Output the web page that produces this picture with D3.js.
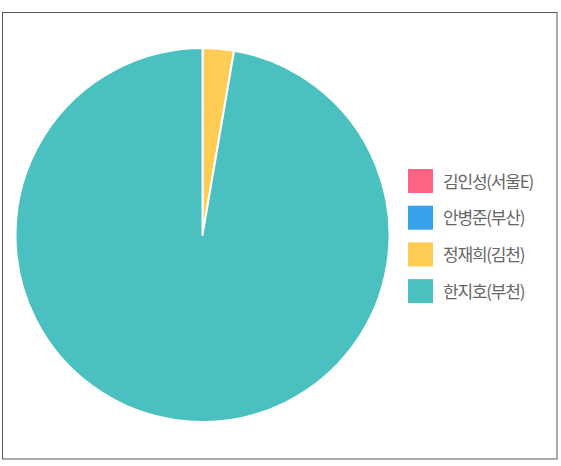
<html>
   <head>
      <meta charset="UTF-8">
      <title>Pie</title>
      <script src="https://d3js.org/d3.v7.min.js"></script>
      <style>
         body{ margin:0; background:#fff; }
         svg{ display:block; }
      </style>
   </head>
   <body>
      <svg width="561" height="466"></svg>
      <script type="text/javascript">
         // data
         var players = ["김인성(서울E)", "안병준(부산)", "정재희(김천)", "한지호(부천)"];
         var values = [0, 0, 1, 36];
         var colors = ["rgb(255,99,132)", "rgb(54,162,235)", "rgb(255,205,86)", "rgb(75,192,192)"];

         var width = 561, height = 466;
         var cx = 202.5, cy = 235, radius = 187;

         var svg = d3.select("svg")
            .attr("width", width)
            .attr("height", height);

         // frame
         svg.append("rect")
            .attr("x", 2.5)
            .attr("y", 12.5)
            .attr("width", 554.5)
            .attr("height", 446.5)
            .attr("fill", "none")
            .attr("stroke", "#555")
            .attr("stroke-width", 1);

         var color = d3.scaleOrdinal().domain(players).range(colors);

         var pie = d3.pie().sort(null).value(function(d){ return d.v; });
         var arc = d3.arc().innerRadius(0).outerRadius(radius);

         var data = players.map(function(p, i){ return {name: p, v: values[i]}; });

         var plotLand = svg.append("g")
            .attr("transform", "translate(" + cx + "," + cy + ")");

         plotLand.selectAll("path")
            .data(pie(data))
            .enter()
            .append("path")
            .attr("d", arc)
            .attr("fill", function(d){ return color(d.data.name); })
            .attr("stroke", "#fff")
            .attr("stroke-width", 2)
            .attr("stroke-linejoin", "round");

         // legend
         var legend = svg.append("g")
            .attr("transform", "translate(408,169)");

         var legendLines = legend.selectAll("g")
            .data(players)
            .enter()
            .append("g")
            .attr("transform", function(d, i){ return "translate(0," + (i * 36.7) + ")"; });

         legendLines.append("rect")
            .attr("width", 25)
            .attr("height", 24)
            .attr("fill", function(d){ return color(d); });

         legendLines.append("text")
            .attr("x", 35)
            .attr("y", 18.5)
            .attr("fill", "#666")
            .style("font-family", "'Noto Sans CJK KR', sans-serif")
            .style("font-size", "17px")
            .style("letter-spacing", "-1.2px")
            .text(function(d){ return d; });
      </script>
   </body>
</html>
